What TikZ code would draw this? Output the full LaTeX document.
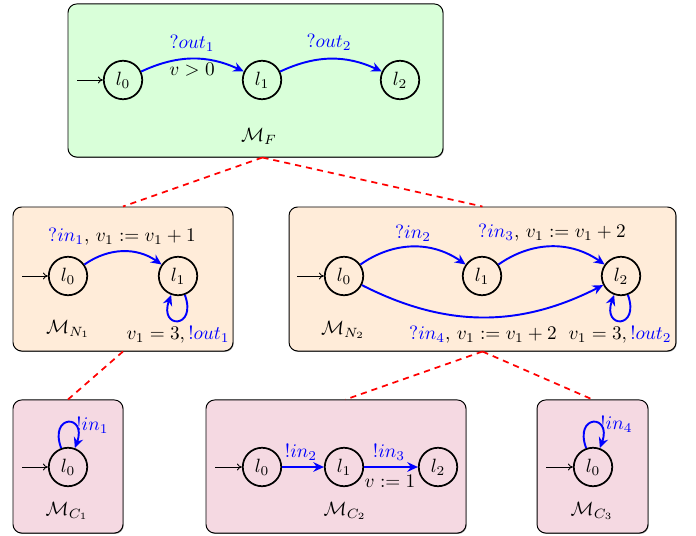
\documentclass[tikz,border=0pt]{standalone}
\usetikzlibrary{arrows.meta,shadows}
\begin{document}
\begin{tikzpicture}[x=0.52pt,y=-0.52pt,
  state/.style={circle,draw,line width=0.9pt,minimum size=20pt,inner sep=0pt},
  trans/.style={blue,line width=1pt,-{Stealth[length=5.5pt,width=5pt,inset=1.8pt]}},
  init/.style={line width=0.45pt,-{To[length=2.6pt,width=3.6pt]}},
  box/.style={draw,rounded corners=4.5pt,line width=0.5pt,inner sep=0pt,
    drop shadow={shadow xshift=0.35pt,shadow yshift=-0.45pt,opacity=0.45,fill=black}},
  link/.style={red,line width=0.9pt,dash pattern=on 3.2pt off 2.6pt},
  lbl/.style={inner sep=0pt},
  bl/.style={inner sep=0pt,text=blue}]
\useasboundingbox (0,0) rectangle (696,536);

% boxes
\node[box,fill=green!15,minimum width=195pt,minimum height=79.6pt] (F) at (255.5,80.5) {};
\node[box,fill=orange!15,minimum width=114.4pt,minimum height=74.9pt] (N1) at (123,279) {};
\node[box,fill=orange!15,minimum width=201.2pt,minimum height=74.9pt] (N2) at (482.5,279) {};
\node[box,fill=purple!15,minimum width=57.2pt,minimum height=69.2pt] (C1) at (68,466.5) {};
\node[box,fill=purple!15,minimum width=135.2pt,minimum height=69.2pt] (C2) at (336,466.5) {};
\node[box,fill=purple!15,minimum width=57.7pt,minimum height=69.2pt] (C3) at (592.5,466.5) {};

% hierarchy links
\draw[link] ([xshift=3.6pt]F.south) -- (N1.north);
\draw[link] ([xshift=3.6pt]F.south) -- (N2.north);
\draw[link] (N1.south) -- (C1.north);
\draw[link] (N2.south) -- ([xshift=5pt]C2.north);
\draw[link] (N2.south) -- (C3.north);

% ---------- M_F ----------
\node[state] (f0) at (123,80) {$l_0$};
\node[state] (f1) at (262,80) {$l_1$};
\node[state] (f2) at (400,80) {$l_2$};
\coordinate (fi) at (77,80);
\draw[init] (fi) -- (f0);
\draw[trans] (f0) to[bend left=25] (f1);
\draw[trans] (f1) to[bend left=25] (f2);
\node[bl] (fl1) at (192,43) {$?out_1$};
\node[lbl] (fl2) at (192,70) {$v>0$};
\node[bl] (fl3) at (329,42) {$?out_2$};
\node[lbl] (fM) at (259,136) {$\mathcal{M}_F$};

% ---------- M_N1 ----------
\node[state] (a0) at (68,276) {$l_0$};
\node[state] (a1) at (178,276) {$l_1$};
\coordinate (ai) at (22,276);
\draw[init] (ai) -- (a0);
\draw[trans] (a0) to[bend left=35] (a1);
\draw[trans] (a1) to[out=-70,in=-110,looseness=6.8] (a1);
\node[lbl] (al1) at (122,237) {\textcolor{blue}{$?in_1$}, $v_1 := v_1+1$};
\node[lbl] (al2) at (178,335) {$v_1=3,\textcolor{blue}{!out_1}$};
\node[lbl] (aM) at (68,329) {$\mathcal{M}_{N_1}$};

% ---------- M_N2 ----------
\node[state] (b0) at (344,276) {$l_0$};
\node[state] (b1) at (482,276) {$l_1$};
\node[state] (b2) at (621,276) {$l_2$};
\coordinate (bi) at (297,276);
\draw[init] (bi) -- (b0);
\draw[trans] (b0) to[bend left=35] (b1);
\draw[trans] (b1) to[bend left=35] (b2);
\draw[trans] (b0) to[bend right=27] (b2);
\draw[trans] (b2) to[out=-70,in=-110,looseness=6.8] (b2);
\node[bl] (bl1) at (413,233) {$?in_2$};
\node[lbl] (bl2) at (552,233) {\textcolor{blue}{$?in_3$}, $v_1 := v_1+2$};
\node[lbl] (bl3) at (483,335) {\textcolor{blue}{$?in_4$}, $v_1 := v_1+2$};
\node[lbl] (bl4) at (620,335) {$v_1=3,\textcolor{blue}{!out_2}$};
\node[lbl] (bM) at (343,330) {$\mathcal{M}_{N_2}$};

% ---------- M_C1 ----------
\node[state] (c0) at (68,467) {$l_0$};
\coordinate (ci) at (22,467);
\draw[init] (ci) -- (c0);
\draw[trans] (c0) to[out=110,in=70,looseness=6.8] (c0);
\node[bl,anchor=west] (cl1) at (76,425) {$!in_1$};
\node[lbl] (cM) at (67,511) {$\mathcal{M}_{C_1}$};

% ---------- M_C2 ----------
\node[state] (d0) at (262,467) {$l_0$};
\node[state] (d1) at (344,467) {$l_1$};
\node[state] (d2) at (438,467) {$l_2$};
\coordinate (di) at (215,467);
\draw[init] (di) -- (d0);
\draw[trans] (d0) -- (d1);
\draw[trans] (d1) -- (d2);
\node[bl] (dl1) at (301,452) {$!in_2$};
\node[bl] (dl2) at (389,452) {$!in_3$};
\node[lbl] (dl3) at (390,481) {$v:=1$};
\node[lbl] (dM) at (345,511) {$\mathcal{M}_{C_2}$};

% ---------- M_C3 ----------
\node[state] (e0) at (593,467) {$l_0$};
\coordinate (ei) at (546,467);
\draw[init] (ei) -- (e0);
\draw[trans] (e0) to[out=110,in=70,looseness=6.8] (e0);
\node[bl,anchor=west] (el1) at (600,424) {$!in_4$};
\node[lbl] (eM) at (592,511) {$\mathcal{M}_{C_3}$};
\end{tikzpicture}
\end{document}
